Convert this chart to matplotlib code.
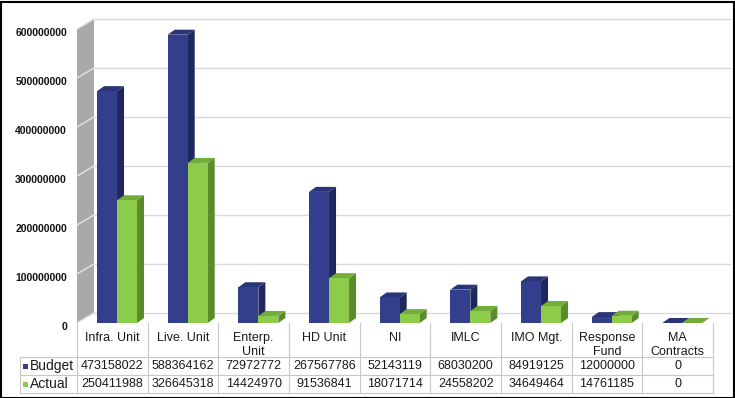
import matplotlib
matplotlib.use("Agg")
import matplotlib.pyplot as plt
from matplotlib.patches import Polygon, Rectangle

plt.rcParams['font.family'] = ['Liberation Sans', 'DejaVu Sans']

categories = ["Infra. Unit", "Live. Unit", "Enterp.\nUnit", "HD Unit", "NI", "IMLC",
              "IMO Mgt.", "Response\nFund", "MA\nContracts"]
budget = [473158022, 588364162, 72972772, 267567786, 52143119, 68030200, 84919125, 12000000, 0]
actual = [250411988, 326645318, 14424970, 91536841, 18071714, 24558202, 34649464, 14761185, 0]
series_names = ["Budget", "Actual"]
yticks = [0, 100000000, 200000000, 300000000, 400000000, 500000000, 600000000]

# colours (front, side, top)
c_budget = ("#343F8B", "#1F275F", "#2A3478")
c_actual = ("#8DCB4A", "#5C8B2B", "#72AC3B")

W, H = 735, 398
fig = plt.figure(figsize=(W / 100, H / 100), dpi=100)
ax = fig.add_axes([0, 0, 1, 1])
ax.set_axis_off()

# pixel layout
X0PX, SLOT = 77.0, (713.0 - 77.0) / 9
Y0PX, PXU = 323.0, 49.0 / 1e8
ax.set_xlim((0 - X0PX) / SLOT - 0.5, (W - X0PX) / SLOT - 0.5)
ax.set_ylim(-(H - Y0PX) / PXU, Y0PX / PXU)

def ypx(p):
    return (Y0PX - p) / PXU

def xpx(p):
    return (p - X0PX) / SLOT - 0.5

# 3D geometry
wall_dx, wall_dy = 17 / SLOT, 10 / PXU
bar_dx, bar_dy = 7 / SLOT, 5 / PXU
bw = 20 / SLOT
n = len(categories)
ymax = yticks[-1]

# side wall
ax.add_patch(Polygon([(-0.5, 0), (-0.5, ymax), (-0.5 + wall_dx, ymax + wall_dy),
                      (-0.5 + wall_dx, wall_dy)], closed=True, facecolor="#A9A9A9",
                     edgecolor="none", zorder=1))
# gridlines (back wall + side wall)
for t in yticks:
    ax.plot([-0.5 + wall_dx, n - 0.5 + wall_dx], [t + wall_dy, t + wall_dy],
            color="#D9D9D9", lw=1.0, zorder=1)
    ax.plot([-0.5, -0.5 + wall_dx], [t, t + wall_dy], color="#E4E4E4", lw=1.0, zorder=1.5)
    ax.text(xpx(67), t - 8e6, f"{t}", ha="right", va="center", fontsize=7.5,
            fontweight="bold", color="#111111")

# bars
x = list(range(n))
offsets = [-0.075, 0.208]
for s, (vals, cols) in enumerate([(budget, c_budget), (actual, c_actual)]):
    xs = [xi + offsets[s] for xi in x]
    bars = ax.bar(xs, vals, width=bw, color=cols[0], edgecolor="none", zorder=3 + s * 2)
    for b in bars:
        xl = b.get_x()
        xr = xl + b.get_width()
        v = b.get_height()
        ax.add_patch(Polygon([(xr, 0), (xr, v), (xr + bar_dx, v + bar_dy), (xr + bar_dx, bar_dy)],
                             closed=True, facecolor=cols[1], edgecolor="none", zorder=2 + s * 2))
        ax.add_patch(Polygon([(xl, v), (xr, v), (xr + bar_dx, v + bar_dy), (xl + bar_dx, v + bar_dy)],
                             closed=True, facecolor=cols[2], edgecolor="none", zorder=2 + s * 2))

# data table
lc = "#C8C8C8"
y_top, y_h, y_r1, y_bot = ypx(323), ypx(357), ypx(375), ypx(393)
for i in range(n + 1):
    ax.plot([i - 0.5, i - 0.5], [y_top, y_bot], color=lc, lw=0.8, zorder=6)
ax.plot([xpx(20), xpx(20)], [y_h, y_bot], color=lc, lw=0.8, zorder=6)
for yy in (y_h, y_r1, y_bot):
    ax.plot([xpx(20), n - 0.5], [yy, yy], color=lc, lw=0.8, zorder=6)

for i, c in enumerate(categories):
    ax.text(i, ypx(332), c, ha="center", va="top", fontsize=9, color="#1a1a1a",
            linespacing=1.2)
row_y = [ypx(366), ypx(384)]
for r, (vals, cols, name) in enumerate([(budget, c_budget, series_names[0]),
                                        (actual, c_actual, series_names[1])]):
    ax.add_patch(Rectangle((xpx(23), row_y[r] - 2.5 / PXU), 5 / SLOT, 5 / PXU,
                           facecolor=cols[0], edgecolor="none", zorder=6))
    ax.text(xpx(30), row_y[r], name, ha="left", va="center", fontsize=10, color="#1a1a1a")
    for i, v in enumerate(vals):
        ax.text(i, row_y[r], f"{v}", ha="center", va="center", fontsize=9, color="#1a1a1a")

# outer border
fig.patches.append(Rectangle((0.5 / W, 0.5 / H), 1 - 2 / W, 1 - 2 / H, transform=fig.transFigure,
                             fill=False, edgecolor="black", lw=1.5))

fig.savefig("out.png", dpi=100)
